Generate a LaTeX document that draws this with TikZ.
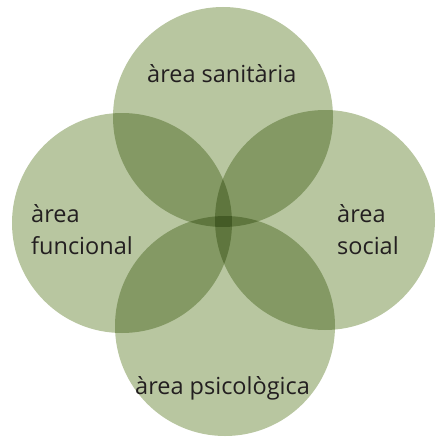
\documentclass[tikz,border=0pt]{standalone}
\usepackage{fontspec}
\setmainfont{Open Sans}
\definecolor{circ}{RGB}{184,198,160}
\definecolor{txt}{RGB}{35,31,32}
\begin{document}
\begin{tikzpicture}[x=1pt,y=-1pt,
  area/.style={circle,fill=circ,minimum size=220pt,inner sep=0pt},
  lbl/.style={font=\fontsize{23.5}{23.5}\selectfont,text=txt,inner sep=0pt,anchor=base west}]
\useasboundingbox (0,0) rectangle (438,436);
\begin{scope}[blend group=multiply]
\node[area] (top) at (223,117) {};
\node[area] (left) at (122,223) {};
\node[area] (right) at (325,220) {};
\node[area] (bottom) at (225,326) {};
\end{scope}
\node[lbl] (t1) at (147,82) {àrea sanitària};
\node[lbl] (l1) at (31,222) {àrea};
\node[lbl] (l2) at (31,254) {funcional};
\node[lbl] (r1) at (337,222) {àrea};
\node[lbl] (r2) at (337,254) {social};
\node[lbl] (b1) at (135,394) {àrea psicològica};
\end{tikzpicture}
\end{document}
